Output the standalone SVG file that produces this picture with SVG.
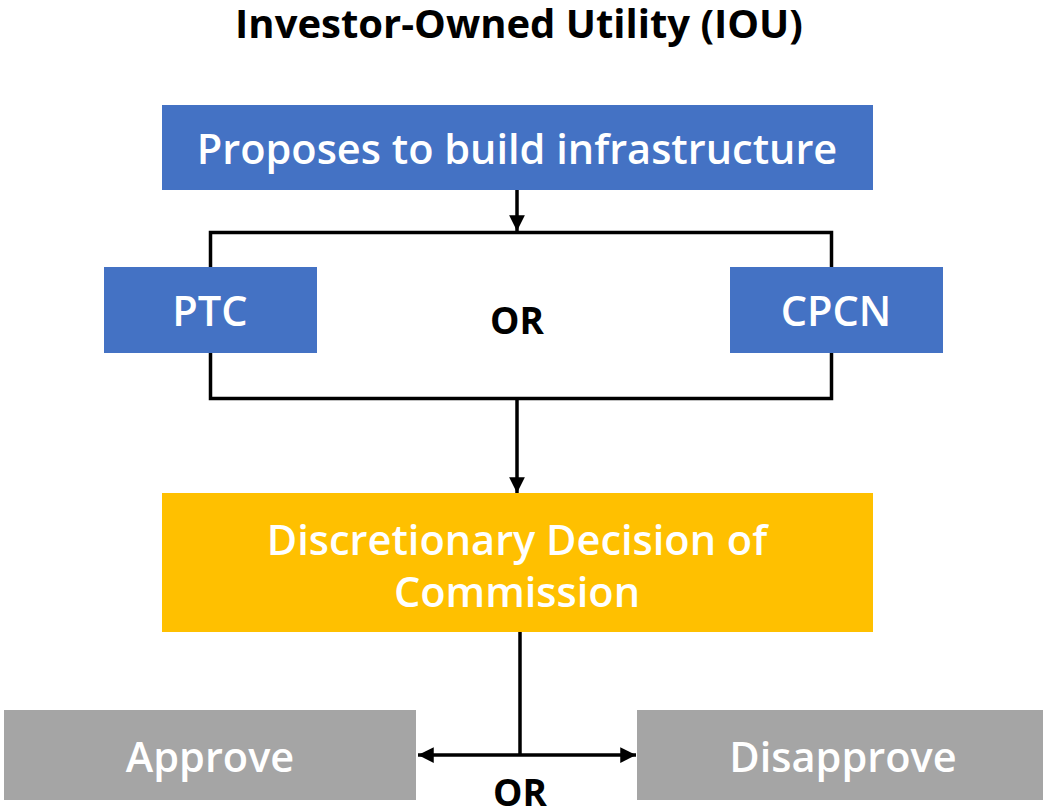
<svg xmlns="http://www.w3.org/2000/svg" width="1047" height="812" viewBox="0 0 1047 812">
<defs>
<style>
text{font-family:"Open Sans","Noto Sans","Liberation Sans",sans-serif;text-anchor:middle}
.w{fill:#fff;font-size:41.5px;font-weight:600}
.b{fill:#000;font-size:37px;font-weight:700}
.t{fill:#000;font-size:40px;font-weight:700}
.blue{fill:#4472C4}
.gold{fill:#FFC000}
.gray{fill:#A5A5A5}
.ln{stroke:#000;stroke-width:3.5;fill:none}
</style>
<marker id="ah" viewBox="0 0 10 10" refX="10" refY="5" markerWidth="4.5" markerHeight="4.5" orient="auto-start-reverse" markerUnits="strokeWidth">
<path d="M0,0 L10,5 L0,10 z" fill="#000"/>
</marker>
</defs>
<rect width="1047" height="812" fill="#fff"/>
<text class="t" x="519" y="38">Investor-Owned Utility (IOU)</text>
<g id="connectors">
<rect class="ln" x="210.5" y="232.5" width="621" height="166"/>
<line class="ln" x1="517" y1="190" x2="517" y2="231" marker-end="url(#ah)"/>
<line class="ln" x1="517" y1="399" x2="517" y2="493" marker-end="url(#ah)"/>
<line class="ln" x1="520" y1="632" x2="520" y2="755"/>
<line class="ln" x1="418" y1="755" x2="636" y2="755" marker-start="url(#ah)" marker-end="url(#ah)"/>
</g>
<g id="propose">
<rect class="blue" x="162" y="105" width="711" height="85"/>
<text class="w" x="517" y="164">Proposes to build infrastructure</text>
</g>
<g id="ptc">
<rect class="blue" x="104" y="267" width="213" height="86"/>
<text class="w" x="210" y="326">PTC</text>
</g>
<g id="cpcn">
<rect class="blue" x="730" y="267" width="213" height="86"/>
<text class="w" x="836" y="326">CPCN</text>
</g>
<g id="or1"><text class="b" x="517" y="334">OR</text></g>
<g id="decision">
<rect class="gold" x="162" y="493" width="711" height="139"/>
<text class="w" x="517" y="555">Discretionary Decision of</text>
<text class="w" x="517" y="607">Commission</text>
</g>
<g id="approve">
<rect class="gray" x="4" y="710" width="412" height="90"/>
<text class="w" x="210" y="772">Approve</text>
</g>
<g id="disapprove">
<rect class="gray" x="637" y="710" width="406" height="90"/>
<text class="w" x="843" y="772">Disapprove</text>
</g>
<g id="or2"><text class="b" x="520" y="806">OR</text></g>
</svg>
